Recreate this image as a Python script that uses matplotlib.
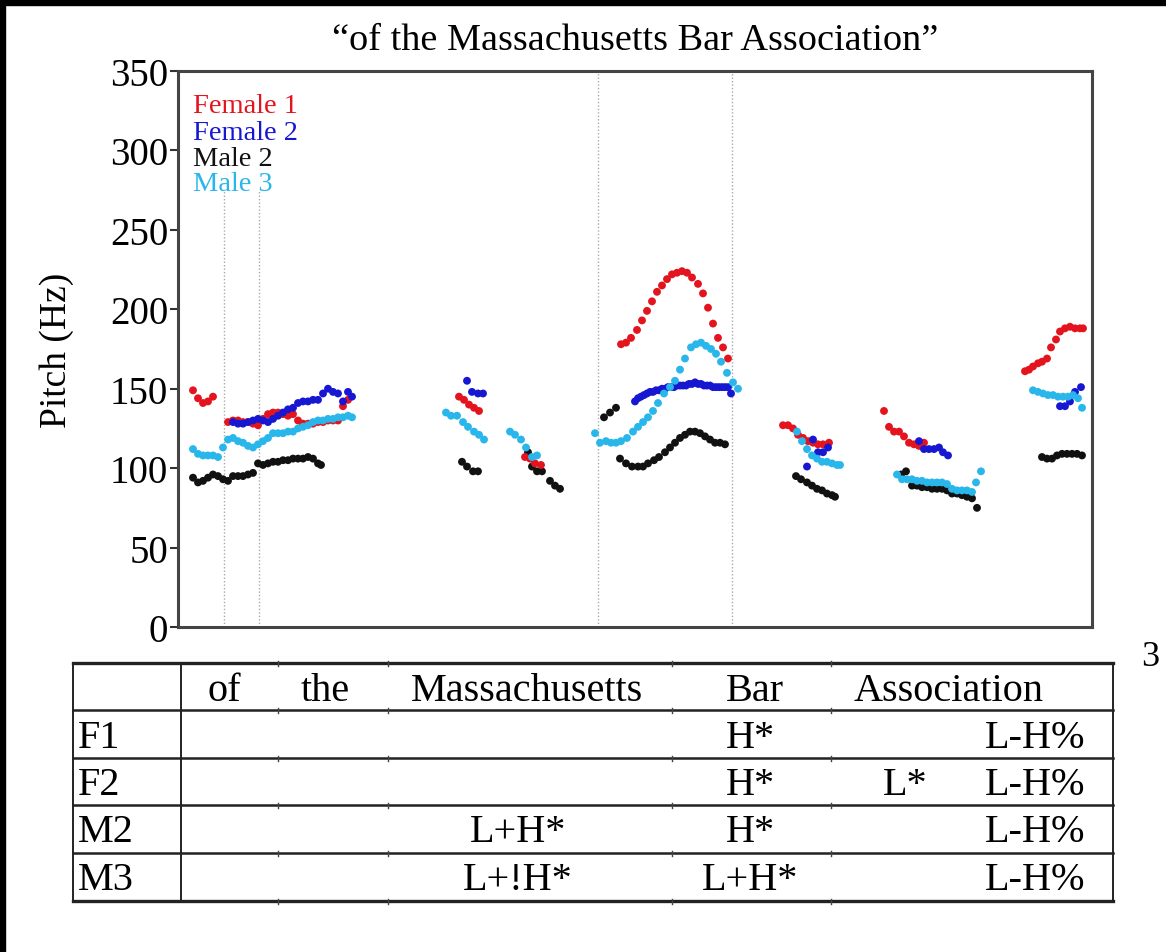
import matplotlib
matplotlib.use("Agg")
import matplotlib.pyplot as plt
from matplotlib.patches import Rectangle

plt.rcParams['font.family'] = ['Liberation Serif', 'DejaVu Serif']

# pitch tracks: time (s) and f0 (Hz) per speaker
f1_time = [0.030, 0.040, 0.050, 0.060, 0.070,
           0.100, 0.110, 0.120, 0.130, 0.140, 0.150, 0.160, 0.170, 0.180, 0.190, 0.200, 0.210, 0.220,
           0.230, 0.240, 0.250, 0.260, 0.270, 0.280, 0.290, 0.300, 0.310, 0.320, 0.330, 0.340,
           0.562, 0.572, 0.582, 0.592, 0.602,
           0.694, 0.704, 0.714, 0.726,
           0.886, 0.896, 0.906, 0.918, 0.928, 0.938, 0.948, 0.958, 0.968, 0.978, 0.988, 0.998,
           1.008, 1.018, 1.028, 1.040, 1.050, 1.060, 1.070, 1.080, 1.090, 1.100,
           1.210, 1.220, 1.230, 1.240, 1.250, 1.260, 1.270, 1.280, 1.290, 1.302,
           1.412, 1.422, 1.432, 1.442, 1.452, 1.462, 1.472, 1.482, 1.492,
           1.694, 1.702, 1.710, 1.720, 1.728, 1.738, 1.746, 1.756, 1.764, 1.774, 1.784, 1.794, 1.804, 1.810]
f1_hz = [149, 144, 141, 142, 145,
         129, 130, 130, 129, 129, 128, 127, 131, 134, 135, 135, 134, 133,
         134, 130, 128, 128, 128, 129, 129, 130, 130, 130, 139, 143,
         145, 143, 140, 138, 136,
         107, 106, 103, 102,
         178, 179, 182, 187, 193, 199, 205, 211, 215, 219, 222, 223,
         224, 223, 220, 216, 210, 201, 191, 182, 176, 169,
         127, 127, 125, 121, 119, 117, 116, 115, 115, 116,
         136, 126, 123, 123, 120, 116, 115, 114, 116,
         161, 162, 164, 166, 167, 169, 176, 181, 186, 188, 189, 188, 188, 188]

f2_time = [0.110, 0.120, 0.130, 0.140, 0.150, 0.160, 0.170, 0.180, 0.190, 0.200, 0.210, 0.220,
           0.230, 0.240, 0.250, 0.260, 0.270, 0.280, 0.290, 0.300, 0.310, 0.320, 0.330, 0.340, 0.348,
           0.578, 0.588, 0.600, 0.610,
           0.914, 0.920, 0.926, 0.932, 0.938, 0.944, 0.950, 0.956, 0.962, 0.968, 0.974, 0.980,
           0.986, 0.992, 0.998, 1.004, 1.010, 1.016, 1.022, 1.028, 1.034, 1.040, 1.046, 1.052,
           1.058, 1.064, 1.070, 1.076, 1.082, 1.088, 1.094, 1.100, 1.106,
           1.258, 1.270, 1.280, 1.290, 1.300,
           1.482, 1.492, 1.502, 1.512, 1.522, 1.530, 1.540,
           1.764, 1.774, 1.784, 1.794, 1.806]
f2_hz = [129, 128, 128, 129, 130, 131, 130, 129, 131, 133, 135, 137,
         138, 141, 142, 142, 143, 143, 147, 150, 148, 147, 142, 148, 145,
         155, 148, 147, 147,
         142, 144, 145, 146, 147, 148, 148, 149, 149, 150, 150, 151,
         151, 151, 152, 152, 152, 152, 153, 153, 154, 153, 153, 152,
         152, 152, 151, 151, 151, 151, 151, 151, 147,
         101, 118, 110, 110, 113,
         117, 112, 112, 112, 113, 110, 108,
         139, 139, 142, 148, 151]

m2_time = [0.030, 0.040, 0.050, 0.060, 0.070, 0.080, 0.090, 0.100, 0.110, 0.120, 0.130, 0.140, 0.150,
           0.160, 0.170, 0.180, 0.190, 0.200, 0.210, 0.220, 0.230, 0.240, 0.250, 0.260, 0.270, 0.280, 0.286,
           0.568, 0.578, 0.590, 0.600,
           0.700, 0.708, 0.718, 0.728, 0.744, 0.754, 0.764,
           0.852, 0.864, 0.876,
           0.884, 0.896, 0.908, 0.920, 0.930, 0.940, 0.952, 0.962, 0.974, 0.984, 0.994,
           1.004, 1.014, 1.024, 1.034, 1.044, 1.054, 1.064, 1.074, 1.084, 1.094,
           1.236, 1.246, 1.258, 1.268, 1.278, 1.288, 1.298, 1.308, 1.314,
           1.446, 1.456, 1.468, 1.478, 1.488, 1.498, 1.508, 1.518, 1.528, 1.538, 1.548,
           1.558, 1.568, 1.578, 1.588, 1.598,
           1.728, 1.738, 1.748, 1.758, 1.768, 1.778, 1.788, 1.798, 1.808]
m2_hz = [94, 91, 92, 94, 96, 95, 93, 92, 95, 95, 95, 96, 97,
         103, 102, 103, 104, 104, 105, 105, 106, 106, 106, 107, 106, 103, 102,
         104, 101, 98, 98,
         110, 101, 98, 98, 92, 89, 87,
         132, 135, 138,
         106, 103, 101, 101, 101, 103, 105, 107, 110, 113, 116,
         119, 121, 123, 123, 122, 120, 118, 116, 116, 115,
         95, 93, 91, 89, 87, 86, 84, 83, 82,
         96, 98, 89, 89, 88, 88, 87, 87, 87, 86, 84,
         84, 83, 82, 81, 75,
         107, 106, 106, 108, 109, 109, 109, 109, 108]

m3_time = [0.030, 0.040, 0.050, 0.060, 0.070, 0.080, 0.090, 0.100, 0.110, 0.120, 0.130, 0.140, 0.150,
           0.160, 0.170, 0.180, 0.190, 0.200, 0.210, 0.220, 0.230, 0.240, 0.250, 0.260, 0.270, 0.280,
           0.290, 0.300, 0.310, 0.320, 0.330, 0.340, 0.348,
           0.536, 0.546, 0.558, 0.570, 0.580, 0.592, 0.602, 0.612,
           0.664, 0.674, 0.686, 0.696, 0.708, 0.718,
           0.834, 0.844, 0.856, 0.866, 0.876, 0.886, 0.898, 0.910, 0.920, 0.930, 0.940, 0.950, 0.960, 0.972,
           0.984, 0.994, 1.004, 1.014, 1.026, 1.036, 1.046, 1.056, 1.066, 1.076, 1.086, 1.098, 1.110, 1.120,
           1.238, 1.248, 1.258, 1.268, 1.278, 1.288, 1.298, 1.308, 1.318, 1.324,
           1.438, 1.448, 1.458, 1.468, 1.478, 1.488, 1.498, 1.508, 1.518, 1.528, 1.538, 1.548,
           1.558, 1.568, 1.578, 1.588, 1.596, 1.606,
           1.710, 1.720, 1.730, 1.740, 1.750, 1.760, 1.770, 1.780, 1.790, 1.800, 1.808]
m3_hz = [112, 109, 108, 108, 108, 107, 113, 118, 119, 117, 116, 114, 113,
         115, 117, 119, 122, 122, 122, 123, 123, 125, 126, 127, 129, 130,
         130, 131, 131, 132, 132, 133, 132,
         135, 133, 133, 129, 126, 123, 121, 118,
         123, 121, 118, 113, 107, 108,
         122, 116, 117, 116, 116, 117, 119, 123, 126, 129, 132, 136, 141, 147,
         151, 155, 162, 169, 176, 178, 179, 177, 175, 172, 167, 160, 154, 150,
         123, 117, 112, 108, 106, 104, 104, 103, 102, 102,
         96, 93, 93, 93, 92, 92, 91, 91, 91, 91, 90, 87,
         86, 86, 86, 85, 91, 98,
         149, 148, 147, 146, 146, 145, 145, 145, 146, 144, 138]

speakers = ['Female 1', 'Female 2', 'Male 2', 'Male 3']
colors = ['#e4141f', '#1717d2', '#111111', '#29b6ea']

# word boundaries (s)
boundaries_short = [0.092, 0.162]
boundaries_full = [0.840, 1.108]

# ToBI table
header_words = ['of', 'the', 'Massachusetts', 'Bar', 'Association']
row_labels = ['F1', 'F2', 'M2', 'M3']
tones = [
    ['', '', '', 'H*', '', 'L-H%'],
    ['', '', '', 'H*', 'L*', 'L-H%'],
    ['', '', 'L+H*', 'H*', '', 'L-H%'],
    ['', '', 'L+!H*', 'L+H*', '', 'L-H%'],
]

W, H = 1166, 953
fig = plt.figure(figsize=(W / 100, H / 100), dpi=100)

ax = fig.add_axes([178 / W, 1 - 628 / H, 914 / W, 556 / H])
order = [2, 0, 1, 3]
series = [(f1_time, f1_hz), (f2_time, f2_hz), (m2_time, m2_hz), (m3_time, m3_hz)]
for i in order:
    t, hz = series[i]
    ax.scatter(t, hz, s=32, color=colors[i], edgecolors='none', zorder=3)

for b in boundaries_short:
    ax.plot([b, b], [0, 275], color='#aaaaaa', lw=1, ls=(0, (1, 1.5)), zorder=1)
for b in boundaries_full:
    ax.axvline(b, color='#aaaaaa', lw=1, ls=(0, (1, 1.5)), zorder=1)

ax.set_xlim(0, 1.828)
ax.set_ylim(0, 350)
ax.set_yticks(range(0, 351, 50))
ax.set_xticks([])
ax.tick_params(axis='y', direction='out', length=6, width=1.5, pad=1, labelsize=28, color='#333333')
for sp in ax.spines.values():
    sp.set_linewidth(2.2)
    sp.set_color('#444444')
ax.set_ylabel('Pitch (Hz)', fontsize=27, labelpad=26)
ax.set_title('\u201cof the Massachusetts Bar Association\u201d', fontsize=27.5, pad=16)

legend_y = [328, 311, 295, 279]
for name, c, y in zip(speakers, colors, legend_y):
    ax.text(0.016, y, name, color=c, fontsize=20.5, va='center', ha='left',
            transform=ax.get_yaxis_transform())

# table drawn in pixel coordinates of the figure
tab = fig.add_axes([0, 0, 1, 1])
tab.set_xlim(0, W)
tab.set_ylim(H, 0)
tab.axis('off')
tab.patch.set_visible(False)

x_left, x_div, x_right = 73, 181, 1113
row_lines = [664, 711, 759, 806, 854, 902]
for k, y in enumerate(row_lines):
    lw = 2.4 if k in (0, len(row_lines) - 1) else 1.8
    tab.plot([x_left, x_right], [y, y], color='#222222', lw=lw)
for x in (x_left, x_div, x_right):
    tab.plot([x, x], [row_lines[0], row_lines[-1]], color='#222222', lw=1.4)
for x in (278, 388, 672, 831):
    for y in row_lines:
        tab.plot([x, x], [y - 2, y + 3], color='#444444', lw=1)

header_x = [224, 325, 527, 755, 949]
for word, x in zip(header_words, header_x):
    tab.text(x, 701, word, fontsize=29, ha='center', va='baseline')

row_base = [748, 795, 842, 890]
tone_x = [224, 325, 518, 750, 905, 1035]
for lab, row, y in zip(row_labels, tones, row_base):
    tab.text(78, y, lab, fontsize=29, ha='left', va='baseline')
    for txt, x in zip(row, tone_x):
        if txt:
            tab.text(x, y, txt, fontsize=29, ha='center', va='baseline')

tab.text(1150, 666, '3', fontsize=26, ha='center', va='baseline')

# page crop artefacts
fig.patches.append(Rectangle((0, 1 - 6 / H), 1, 6 / H, transform=fig.transFigure,
                             color='black', zorder=10))
fig.patches.append(Rectangle((0, 0), 5 / W, 1, transform=fig.transFigure,
                             color='black', zorder=10))

fig.savefig('out.png', dpi=100)
